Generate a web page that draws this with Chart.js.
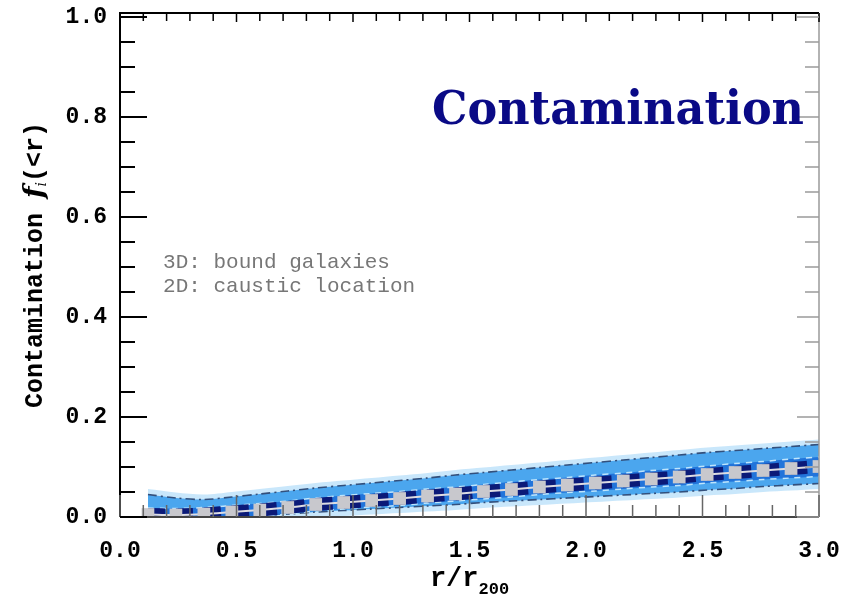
<!DOCTYPE html>
<html>
<head>
<meta charset="utf-8">
<title>Contamination</title>
<script src="https://cdn.jsdelivr.net/npm/chart.js@4.4.1/dist/chart.umd.min.js"></script>
<style>
  html, body { margin: 0; padding: 0; background: #fff; }
  #chart { display: block; }
</style>
</head>
<body>
<canvas id="chart" width="858" height="598"></canvas>
<script>
// radial bins (r / r200) and contamination fraction f_i(<r)
const rBins = [0.12, 0.24, 0.36, 0.48, 0.60, 0.72, 0.84, 0.96, 1.08, 1.20, 1.32, 1.44, 1.56,
               1.68, 1.80, 1.92, 2.04, 2.16, 2.28, 2.40, 2.52, 2.64, 2.76, 2.88, 3.00];
const medianFrac = [0.005, 0.004, 0.006, 0.010, 0.014, 0.019, 0.025, 0.029, 0.033, 0.037, 0.042, 0.046, 0.051,
                    0.055, 0.060, 0.064, 0.068, 0.072, 0.076, 0.080, 0.085, 0.089, 0.093, 0.097, 0.101];
// inner quantiles (light dashes)
const innerUpper = [0.018, 0.017, 0.019, 0.023, 0.027, 0.032, 0.038, 0.043, 0.047, 0.051, 0.056, 0.060, 0.065,
                    0.070, 0.075, 0.079, 0.084, 0.088, 0.093, 0.097, 0.102, 0.107, 0.111, 0.116, 0.120];
const innerLower = [0.000, 0.000, 0.000, 0.000, 0.001, 0.006, 0.012, 0.016, 0.020, 0.023, 0.028, 0.032, 0.036,
                    0.040, 0.045, 0.049, 0.052, 0.056, 0.060, 0.063, 0.068, 0.071, 0.075, 0.078, 0.081];
// outer quantiles (dash-dot)
const outerUpper = [0.045, 0.038, 0.035, 0.040, 0.046, 0.052, 0.058, 0.063, 0.068, 0.073, 0.078, 0.084, 0.089,
                    0.094, 0.099, 0.104, 0.109, 0.114, 0.119, 0.124, 0.129, 0.133, 0.137, 0.141, 0.145];
const outerLower = [0.000, 0.000, 0.000, 0.000, 0.003, 0.006, 0.010, 0.013, 0.016, 0.019, 0.022, 0.025, 0.029,
                    0.032, 0.035, 0.038, 0.041, 0.044, 0.047, 0.050, 0.054, 0.057, 0.061, 0.064, 0.067];
// full spread of the realisations (pale halo)
const spreadUpper = [0.056, 0.049, 0.045, 0.050, 0.056, 0.062, 0.068, 0.073, 0.078, 0.083, 0.088, 0.094, 0.099,
                     0.104, 0.109, 0.114, 0.119, 0.124, 0.129, 0.134, 0.139, 0.143, 0.147, 0.151, 0.155];
const spreadLower = [0.000, 0.000, 0.000, 0.000, 0.000, 0.000, 0.000, 0.002, 0.005, 0.008, 0.011, 0.014, 0.018,
                     0.021, 0.024, 0.027, 0.030, 0.033, 0.036, 0.039, 0.043, 0.046, 0.050, 0.053, 0.056];

const xTicks = [0.0, 0.5, 1.0, 1.5, 2.0, 2.5, 3.0];
const yTicks = [0.0, 0.2, 0.4, 0.6, 0.8, 1.0];
const noteLines = ['3D: bound galaxies', '2D: caustic location'];
const titleText = 'Contamination';

const MONO = '"Liberation Mono", "DejaVu Sans Mono", monospace';

function pts(ys){ return rBins.map((r, i) => ({ x: r, y: ys[i] })); }

function band(label, ys, order, extra){
  return Object.assign({
    label, data: pts(ys), order, fill: false, tension: 0.3,
    pointRadius: 0, borderWidth: 0, borderColor: 'rgba(0,0,0,0)'
  }, extra);
}

// frame, inward ticks, axis titles and text labels
const decorations = {
  id: 'decorations',
  afterDraw(chart){
    const ctx = chart.ctx, xs = chart.scales.x, ys = chart.scales.y;
    const a = chart.chartArea;
    ctx.save();
    // frame
    ctx.lineCap = 'butt';
    ctx.lineWidth = 2;
    ctx.strokeStyle = '#000';
    ctx.beginPath(); ctx.moveTo(a.left, a.bottom); ctx.lineTo(a.left, a.top); ctx.lineTo(a.right, a.top); ctx.stroke();
    ctx.strokeStyle = '#444';
    ctx.beginPath(); ctx.moveTo(a.left, a.bottom); ctx.lineTo(a.right, a.bottom); ctx.stroke();
    ctx.strokeStyle = '#9a9a9a'; ctx.lineWidth = 1.5;
    ctx.beginPath(); ctx.moveTo(a.right, a.top); ctx.lineTo(a.right, a.bottom); ctx.stroke();

    // x ticks every 0.1, major every 0.5
    for (let k = 0; k <= 30; k++){
      const x = xs.getPixelForValue(k / 10);
      const major = k % 5 === 0;
      ctx.lineWidth = 1.5;
      ctx.strokeStyle = '#666';
      ctx.beginPath(); ctx.moveTo(x, a.bottom); ctx.lineTo(x, a.bottom - (major ? 22 : 12)); ctx.stroke();
      ctx.strokeStyle = '#000';
      ctx.beginPath(); ctx.moveTo(x, a.top); ctx.lineTo(x, a.top + (major ? 9 : 8)); ctx.stroke();
    }
    // y ticks every 0.05, major every 0.2
    for (let k = 0; k <= 20; k++){
      const y = ys.getPixelForValue(k / 20);
      const major = k % 4 === 0;
      ctx.lineWidth = 2;
      ctx.strokeStyle = '#000';
      ctx.beginPath(); ctx.moveTo(a.left, y); ctx.lineTo(a.left + (major ? 27 : 15), y); ctx.stroke();
      ctx.lineWidth = 1.5;
      ctx.strokeStyle = '#9a9a9a';
      ctx.beginPath(); ctx.moveTo(a.right, y); ctx.lineTo(a.right - (major ? 22 : 14), y); ctx.stroke();
    }

    // note in the upper-left of the plot
    ctx.fillStyle = '#777';
    ctx.font = '21px ' + MONO;
    ctx.textAlign = 'left'; ctx.textBaseline = 'middle';
    ctx.fillText(noteLines[0], xs.getPixelForValue(0.185), ys.getPixelForValue(0.51));
    ctx.fillText(noteLines[1], xs.getPixelForValue(0.185), ys.getPixelForValue(0.462));

    // big title
    ctx.fillStyle = '#0a0a86';
    ctx.font = 'bold 46px "DejaVu Serif", "Liberation Serif", serif';
    ctx.textBaseline = 'alphabetic';
    const tw = ctx.measureText(titleText).width, target = 372;
    ctx.save();
    ctx.translate(432, 124);
    if (tw > target) ctx.scale(target / tw, 1);
    ctx.fillText(titleText, 0, 0);
    ctx.restore();

    // x axis title r/r200
    ctx.fillStyle = '#000';
    ctx.textBaseline = 'alphabetic';
    const fBig = 'bold 27px ' + MONO, fSub = 'bold 17px ' + MONO;
    ctx.font = fBig;
    const main = 'r/r', w1 = ctx.measureText(main).width;
    ctx.font = fSub;
    const w2 = ctx.measureText('200').width;
    const x0 = (a.left + a.right) / 2 - (w1 + w2) / 2;
    ctx.font = fBig;
    ctx.fillText(main, x0, 586);
    ctx.font = fSub;
    ctx.fillText('200', x0 + w1, 594);

    // y axis title, rotated
    ctx.save();
    ctx.translate(36, 265);
    ctx.rotate(-Math.PI / 2);
    const parts = [
      { t: 'Contamination ', f: 'bold 25px ' + MONO, dy: 0 },
      { t: 'f', f: 'italic bold 27px "DejaVu Serif", serif', dy: 0 },
      { t: 'i', f: 'italic 14px "DejaVu Serif", serif', dy: 6 },
      { t: '(<r)', f: 'bold 25px ' + MONO, dy: 0 }
    ];
    let total = 0;
    parts.forEach(p => { ctx.font = p.f; p.w = ctx.measureText(p.t).width; total += p.w; });
    let px = -total / 2;
    ctx.textBaseline = 'middle';
    parts.forEach(p => { ctx.font = p.f; ctx.fillText(p.t, px, p.dy); px += p.w; });
    ctx.restore();

    ctx.restore();
  }
};

const dashDot = [9, 4, 2, 4];
const datasets = [
  band('spread upper', spreadUpper, 20, { fill: { target: 1 }, backgroundColor: 'rgba(165,215,248,0.6)' }),
  band('spread lower', spreadLower, 19),
  band('outer upper', outerUpper, 18, { fill: { target: 3 }, backgroundColor: '#4ba6ee',
    borderWidth: 1.6, borderColor: '#33507c', borderDash: dashDot }),
  band('outer lower', outerLower, 17, { borderWidth: 1.6, borderColor: '#33507c', borderDash: dashDot }),
  band('inner upper', innerUpper, 16, { fill: { target: 5 }, backgroundColor: '#2274da',
    borderWidth: 1.5, borderColor: 'rgba(205,238,255,0.9)', borderDash: [6, 6] }),
  band('inner lower', innerLower, 15, { borderWidth: 1.5, borderColor: 'rgba(205,238,255,0.9)', borderDash: [6, 6] }),
  band('median core', medianFrac, 14, { borderWidth: 13, borderColor: '#0b1a78', borderDash: [17, 11] }),
  band('median', medianFrac, 13, { borderWidth: 2, borderColor: '#dcdce2',
    pointRadius: 9, pointStyle: 'rect', pointBackgroundColor: '#c8c8cd', pointBorderWidth: 0 })
];

new Chart(document.getElementById('chart'), {
  type: 'line',
  data: { datasets },
  options: {
    responsive: false,
    animation: false,
    layout: { padding: { top: 13, right: 39, left: 0, bottom: 0 } },
    plugins: { legend: { display: false }, tooltip: { enabled: false } },
    scales: {
      x: {
        type: 'linear', min: 0, max: 3,
        grid: { display: false }, border: { display: false },
        afterBuildTicks: s => { s.ticks = xTicks.map(v => ({ value: v })); },
        afterFit: s => { s.height = 81; s.paddingLeft = 0; s.paddingRight = 0; },
        ticks: { padding: 12, color: '#000', maxRotation: 0, font: { family: MONO, size: 23, weight: 'bold' },
                 callback: v => Number(v).toFixed(1) }
      },
      y: {
        type: 'linear', min: 0, max: 1.008,
        grid: { display: false }, border: { display: false },
        afterBuildTicks: s => { s.ticks = yTicks.map(v => ({ value: v })); },
        afterFit: s => { s.width = 120; s.paddingTop = 0; s.paddingBottom = 0; },
        ticks: { padding: 5, color: '#000', font: { family: MONO, size: 23, weight: 'bold' },
                 callback: v => Number(v).toFixed(1) }
      }
    }
  },
  plugins: [decorations]
});
</script>
</body>
</html>
